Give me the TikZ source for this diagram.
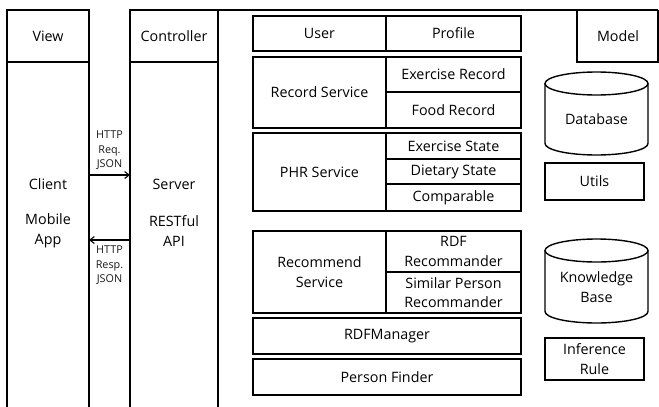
\documentclass[tikz,border=0pt]{standalone}
\usepackage{fontspec}
\setmainfont{Open Sans}
\usetikzlibrary{arrows.meta}
\begin{document}
\begin{tikzpicture}[x=1pt,y=-1pt,
  lbl/.style={font=\fontsize{14.3}{19.5}\selectfont, inner sep=0pt, align=center, text=black},
  sml/.style={font=\fontsize{10.8}{14.5}\selectfont, inner sep=0pt, align=center, text=black!90},
  frame/.style={line width=1.4pt},
  cell/.style={line width=1.6pt},
  conn/.style={line width=1.1pt,-{Straight Barb[length=4.5pt,width=7pt]}}]
\useasboundingbox (0,0) rectangle (659,407);
% View column
\draw[frame] (7,407) -- (7,10) -- (89,10) -- (89,407);
\draw[frame] (7,62) -- (89,62);
\node[lbl] (view) at (48,36) {View};
\node[lbl] (client) at (48,184) {Client};
\node[lbl] (mobile) at (48,231) {Mobile\\App};
% Controller column
\draw[frame] (130,407) -- (130,10) -- (658,10);
\draw[frame] (218,10) -- (218,407);
\draw[frame] (130,62) -- (218,62);
\node[lbl] (ctrl) at (174,36) {Controller};
\node[lbl] (server) at (174,184) {Server};
\node[lbl] (rest) at (174,231) {RESTful\\API};
% arrows
\coordinate (rqs) at (89,175);
\coordinate (rqe) at (130,175);
\coordinate (rps) at (130,240);
\coordinate (rpe) at (89,240);
\draw[conn] (rqs) -- (rqe);
\draw[conn] (rps) -- (rpe);
\node[sml, anchor=south] (req) at (109.5,170) {HTTP\\Req.\\JSON};
\node[sml, anchor=north] (resp) at (109.5,246) {HTTP\\Resp.\\JSON};
% Model header
\draw[frame] (577,10) -- (577,62) -- (658,62) -- (658,10);
\node[lbl] (model) at (618,36) {Model};
% User / Profile
\draw[cell] (253,16) rectangle (521,51);
\draw[cell] (386,16) -- (386,51);
\node[lbl] (user) at (319.5,33.5) {User};
\node[lbl] (profile) at (453.5,33.5) {Profile};
% Record service
\draw[cell] (253,57) rectangle (521,128);
\draw[cell] (386,57) -- (386,128);
\draw[cell] (386,92) -- (521,92);
\node[lbl] (rec) at (319.5,92.5) {Record Service};
\node[lbl] (exrec) at (453.5,74.5) {Exercise Record};
\node[lbl] (food) at (453.5,110) {Food Record};
% PHR service
\draw[cell] (253,133) rectangle (521,211);
\draw[cell] (386,133) -- (386,211);
\draw[cell] (386,159) -- (521,159);
\draw[cell] (386,184) -- (521,184);
\node[lbl] (phr) at (319.5,172) {PHR Service};
\node[lbl] (exst) at (453.5,146) {Exercise State};
\node[lbl] (diet) at (453.5,171.5) {Dietary State};
\node[lbl] (comp) at (453.5,197.5) {Comparable};
% Recommend service
\draw[cell] (253,231) rectangle (521,313);
\draw[cell] (386,231) -- (386,313);
\draw[cell] (386,272) -- (521,272);
\node[lbl] (recsvc) at (319.5,272) {Recommend\\Service};
\node[lbl] (rdfrec) at (453.5,251.5) {RDF\\Recommander};
\node[lbl] (simrec) at (453.5,292.5) {Similar Person\\Recommander};
% RDF manager
\draw[cell] (253,318) rectangle (521,354);
\node[lbl] (rdfm) at (387,336) {RDFManager};
% Person finder
\draw[cell] (253,359) rectangle (521,395);
\node[lbl] (pf) at (387,377) {Person Finder};
% Database cylinder
\draw[frame] (545,83.5) -- (545,143.5) arc[start angle=180,end angle=0,x radius=51.5,y radius=11.5] -- (648,83.5);
\draw[frame] (596.5,83.5) ellipse[x radius=51.5,y radius=11.5];
\node[lbl] (db) at (596.5,119) {Database};
% Utils
\draw[frame] (545,163) rectangle (644,200);
\node[lbl] (utils) at (594.5,181.5) {Utils};
% Knowledge base cylinder
\draw[frame] (545,250.5) -- (545,311.5) arc[start angle=180,end angle=0,x radius=51.5,y radius=11.5] -- (648,250.5);
\draw[frame] (596.5,250.5) ellipse[x radius=51.5,y radius=11.5];
\node[lbl] (kb) at (596.5,287) {Knowledge\\Base};
% Inference rule
\draw[frame] (545,338) rectangle (644,380);
\node[lbl] (inf) at (594.5,359) {Inference\\Rule};
\end{tikzpicture}
\end{document}
